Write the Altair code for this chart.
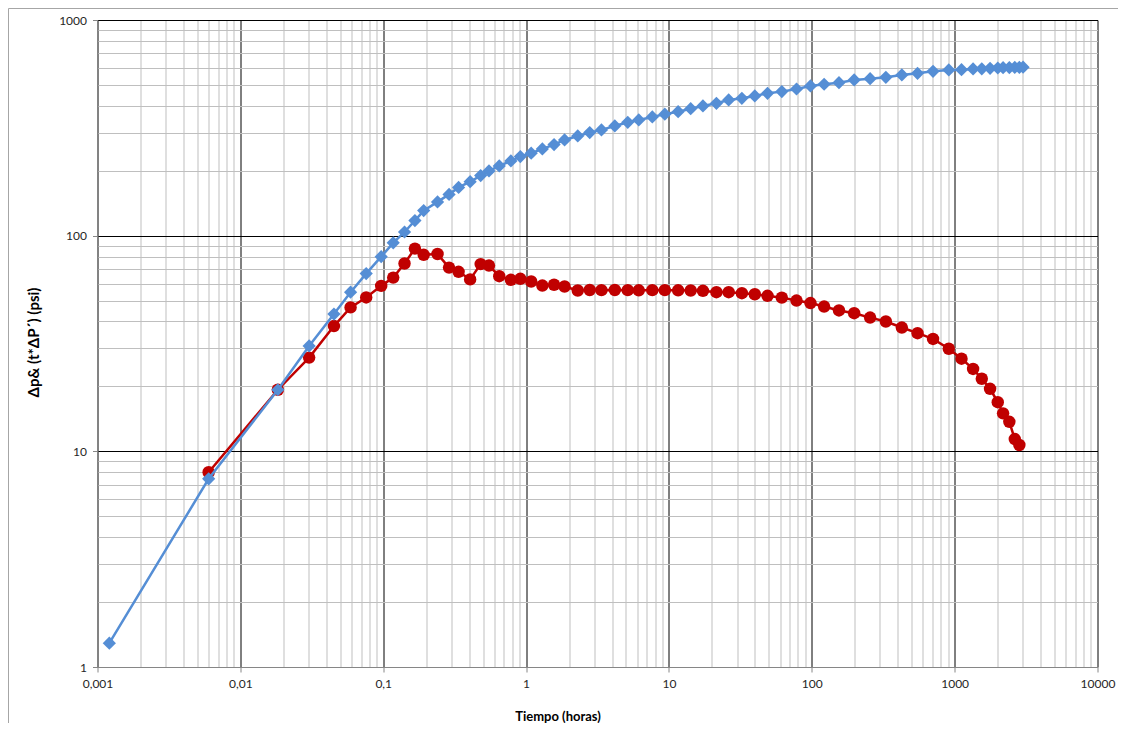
import altair as alt
import pandas as pd

# Tiempo (horas) - shared sample times
TIME = [0.00121, 0.006, 0.0183, 0.0303, 0.0452, 0.0591, 0.076, 0.0968, 0.1175, 0.141,
        0.1667, 0.192, 0.24, 0.289, 0.337, 0.406, 0.481, 0.55, 0.649, 0.783,
        0.912, 1.086, 1.30, 1.57, 1.86, 2.30, 2.79, 3.37, 4.18, 5.15,
        6.15, 7.65, 9.36, 11.6, 14.2, 17.3, 21.5, 26.2, 32.4, 39.9,
        49.0, 61.7, 78.2, 97.9, 122, 155, 198, 256, 330, 427,
        550, 706, 910, 1117, 1346, 1549, 1770, 2004, 2183, 2415,
        2636, 2838, 3013]

# Delta p (psi) - blue diamonds
DELTA_P = [1.29, 7.46, 19.3, 30.8, 43.3, 54.7, 66.7, 79.9, 92.6, 104,
           117.5, 130.7, 143.4, 155.4, 167.4, 177.9, 190, 199.6, 210.6, 222.2,
           232.6, 241.2, 252.6, 264.4, 277.9, 290, 300.5, 309.3, 322.6, 335.6,
           344.1, 355.2, 366, 375.8, 388, 399.5, 411, 425.8, 433.6, 444.6,
           457.3, 465.5, 478.7, 494.5, 503.6, 512.3, 527.1, 534.5, 542.6, 556,
           566.2, 578.4, 586.6, 588, 593, 594, 597, 599, 601, 602,
           603, 603, 604]

# Derivative t*dP' (psi) - red circles (times TIME[1:62])
DERIV_TIME = TIME[1:62]
DERIV = [8.0, 19.3, 27.2, 38.1, 46.5, 51.7, 58.5, 63.9, 74.3, 87.1,
         81.5, 82.2, 71.1, 68.0, 62.7, 73.8, 72.7, 64.9, 62.4, 63.1,
         61.3, 58.7, 59.2, 58.1, 55.7, 56.0, 55.9, 56.0, 55.9, 55.8,
         55.9, 55.9, 55.8, 55.7, 55.5, 54.7, 54.7, 54.1, 53.5, 52.6,
         51.6, 50.0, 48.7, 46.9, 45.0, 43.7, 41.7, 40.0, 37.5, 35.3,
         33.2, 29.9, 26.9, 24.1, 21.7, 19.5, 16.9, 15.0, 13.7, 11.4,
         10.7]

X_MAJOR = [0.001, 0.01, 0.1, 1, 10, 100, 1000, 10000]
Y_MAJOR = [1, 10, 100, 1000]
X_TICKS = [m * 10 ** e for e in range(-3, 4) for m in range(1, 10)] + [10000]
Y_TICKS = [m * 10 ** e for e in range(0, 3) for m in range(1, 10)] + [1000]

FONT = "Lato"


def major_test(vals):
    return "indexof([" + ",".join(repr(v) for v in vals) + "], datum.value) >= 0"


def make_axis(vals, majors, title, is_x):
    test = major_test(majors)
    kw = dict(
        values=vals,
        title=title,
        labelExpr=test + " ? replace(format(datum.value, '~g'), '.', ',') : ''",
        labelOverlap=False,
        labelFlush=False,
        labelFont=FONT,
        labelFontSize=12,
        labelColor="#262626",
        labelPadding=6,
        tickSize=5,
        tickColor={"condition": {"test": test, "value": "#868686"}, "value": "transparent"},
        grid=True,
        gridColor={"condition": {"test": test, "value": "#000000"}, "value": "#BFBFBF"},
        gridWidth=1,
        domainColor="#868686",
        titleFont=FONT,
        titleFontSize=13,
        titleFontWeight="bold",
        titleColor="#000000",
    )
    if is_x:
        kw.update(titleX=460, titleY=49, titleAlign="center", titleBaseline="middle")
    else:
        kw.update(titleX=-64, titleY=322, titleAlign="center", titleBaseline="middle",
                  titleFontSize=15)
    return alt.Axis(**kw)


xscale = alt.Scale(type="log", domain=[0.001, 10000], nice=False)
yscale = alt.Scale(type="log", domain=[1, 1000], nice=False)
xaxis = make_axis(X_TICKS, X_MAJOR, "Tiempo  (horas)", True)
yaxis = make_axis(Y_TICKS, Y_MAJOR, "Δp& (t*ΔP´) (psi)", False)

blue_df = pd.DataFrame({"t": TIME, "v": DELTA_P})
red_df = pd.DataFrame({"t": DERIV_TIME, "v": DERIV})

RED = "#C00000"
BLUE = "#558ED5"

red = alt.Chart(red_df).mark_line(
    color=RED, strokeWidth=2.5,
    point=alt.OverlayMarkDef(shape="circle", size=155, filled=True, color=RED, opacity=1),
).encode(
    x=alt.X("t:Q", scale=xscale, axis=xaxis),
    y=alt.Y("v:Q", scale=yscale, axis=yaxis),
)

blue = alt.Chart(blue_df).mark_line(
    color=BLUE, strokeWidth=2.5,
    point=alt.OverlayMarkDef(shape="diamond", size=175, filled=True, color=BLUE, opacity=1),
).encode(
    x=alt.X("t:Q", scale=xscale, axis=xaxis),
    y=alt.Y("v:Q", scale=yscale, axis=yaxis),
)

frame_df = pd.DataFrame({"k": [0]})
frame_left = alt.Chart(frame_df).mark_rule(color="#A6A6A6", strokeWidth=1).encode(
    x=alt.value(-89), y=alt.value(-11.5), y2=alt.value(720)
)
frame_top = alt.Chart(frame_df).mark_rule(color="#A6A6A6", strokeWidth=1).encode(
    x=alt.value(-89), x2=alt.value(1030), y=alt.value(-11.5)
)

chart = alt.layer(frame_left, frame_top, red, blue).properties(
    width=1000,
    height=647,
    autosize=alt.AutoSizeParams(type="none"),
    padding={"left": 89.5, "top": 12, "right": 20, "bottom": 56},
    background="white",
).configure_view(stroke="transparent")

chart.save("out.html", embed_options={"renderer": "svg", "actions": False})
